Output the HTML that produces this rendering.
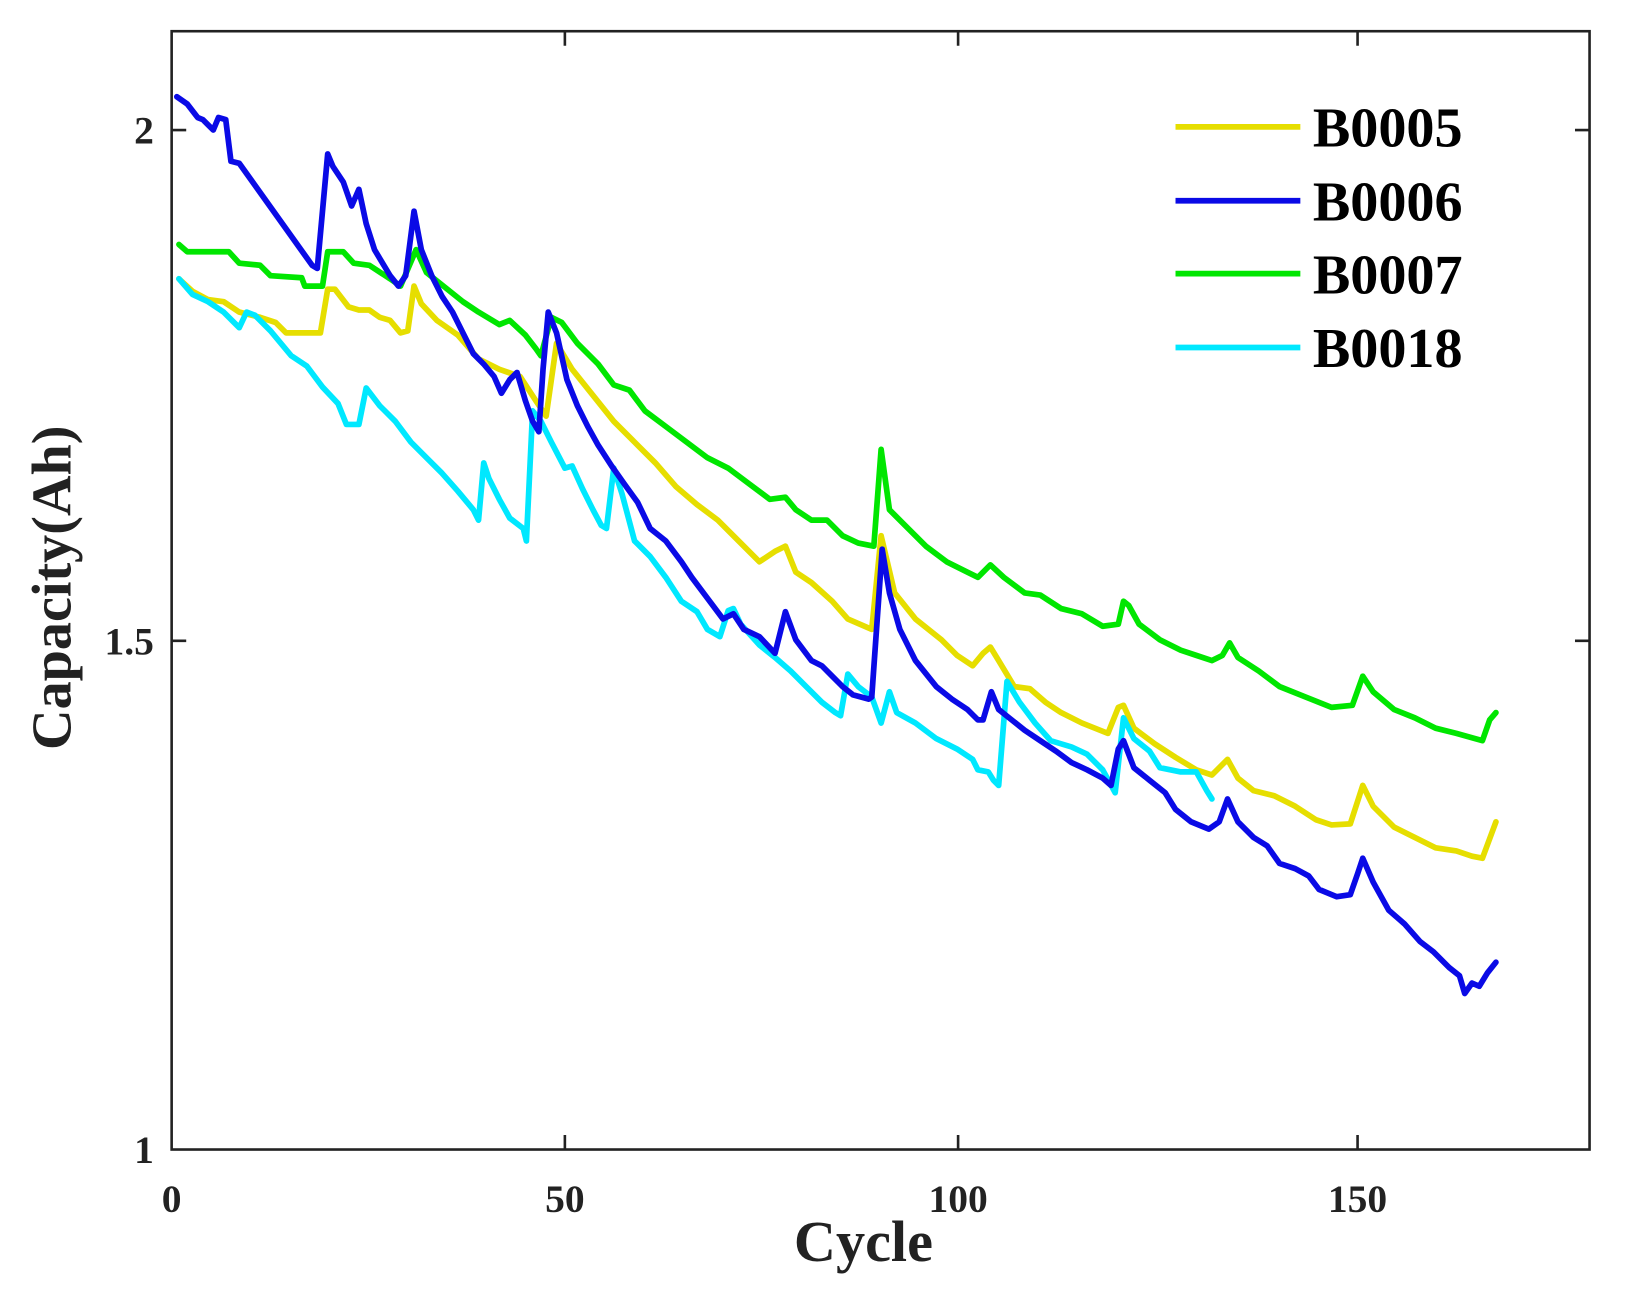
<!DOCTYPE html>
<html><head><meta charset="utf-8"><style>html,body{margin:0;padding:0;background:#fff}svg{display:block}</style></head>
<body>
<svg width="1627" height="1291" viewBox="0 0 1564 1241" preserveAspectRatio="none" xmlns="http://www.w3.org/2000/svg" font-family="Liberation Serif, serif" font-weight="bold">
<rect width="1564" height="1241" fill="#fff"/>
<g fill="none" stroke-width="5.5" stroke-linejoin="round" stroke-linecap="round">
<polyline stroke="#e6de00" points="172,268 185,280 200,288 215,290 230,300 250,305 265,310 275,320 290,320 308,320 315,278 322,278 335,295 345,298 355,298 365,305 375,308 385,320 392,318 398,275 405,292 420,308 440,322 460,345 480,355 500,362 515,385 525,400 535,330 550,355 570,380 590,405 610,425 630,445 650,468 670,485 690,500 710,520 730,540 745,530 755,525 765,550 780,560 800,578 815,595 838,605 847,515 860,570 880,595 905,615 920,630 935,640 945,628 952,622 960,635 975,660 990,662 1005,675 1020,685 1040,695 1065,705 1075,680 1080,678 1090,700 1110,715 1130,728 1150,740 1165,745 1180,730 1190,748 1205,760 1225,765 1245,775 1265,788 1280,793 1298,792 1310,755 1320,775 1340,795 1360,805 1380,815 1400,818 1415,823 1425,825 1438,790"/>
<polyline stroke="#00e600" points="172,235 180,242 220,242 230,253 250,255 260,265 290,267 293,275 310,275 315,242 330,242 340,253 355,255 375,268 385,275 400,240 410,262 430,278 445,290 460,300 480,312 490,308 505,322 515,335 520,342 530,305 540,310 555,330 575,350 590,370 605,375 620,395 640,410 660,425 680,440 700,450 720,465 740,480 755,478 765,490 780,500 795,500 810,515 825,522 840,525 847,432 855,490 870,505 890,525 910,540 930,550 940,555 952,543 965,555 985,570 1000,572 1020,585 1040,590 1060,602 1075,600 1080,578 1085,582 1095,600 1115,615 1135,625 1150,630 1165,635 1175,630 1182,618 1190,632 1210,645 1230,660 1255,670 1280,680 1300,678 1310,650 1320,665 1340,682 1360,690 1380,700 1400,705 1418,710 1425,712 1432,692 1438,685"/>
<polyline stroke="#00e8ff" points="172,268 185,283 200,290 215,300 230,315 237,300 245,303 260,318 280,342 295,352 310,372 325,388 333,408 345,408 352,373 365,390 380,405 395,425 410,440 425,455 440,472 455,490 460,500 465,445 470,460 480,480 490,498 503,508 506,520 512,395 520,405 530,425 543,450 550,448 560,470 570,490 578,505 583,508 590,450 598,475 610,520 625,535 640,555 655,578 670,588 680,605 692,612 700,587 705,585 712,600 730,620 745,632 760,645 775,660 790,675 803,685 808,688 815,648 825,660 838,670 847,695 855,665 862,685 880,695 900,710 920,720 935,730 940,740 950,742 955,750 960,755 968,655 980,675 995,695 1010,712 1030,718 1045,725 1060,740 1072,762 1080,690 1090,710 1105,722 1115,738 1125,740 1135,742 1150,742 1160,760 1165,768"/>
<polyline stroke="#0a0ae6" points="170,93 180,100 190,113 195,115 205,125 210,113 217,115 222,155 230,157 300,255 305,258 315,148 320,160 330,175 338,198 345,182 352,215 360,240 375,265 383,275 390,265 398,203 405,240 415,265 425,285 435,300 445,320 455,340 465,350 475,362 482,378 490,365 497,358 505,385 512,405 518,415 522,355 527,300 535,320 545,365 555,390 565,410 575,428 588,448 600,465 613,483 625,508 640,520 655,540 665,555 680,575 695,595 705,590 715,605 730,612 745,628 755,588 765,615 780,635 790,640 800,650 810,660 820,668 835,672 838,670 848,528 855,570 865,605 880,635 900,660 915,672 930,682 940,692 945,692 953,665 960,682 970,690 985,702 1000,712 1015,722 1030,733 1045,740 1060,748 1068,755 1075,720 1080,712 1090,738 1105,750 1120,762 1130,778 1145,790 1162,797 1172,790 1180,768 1190,790 1205,805 1218,813 1230,830 1245,835 1258,842 1268,855 1285,862 1298,860 1305,840 1310,825 1320,848 1335,875 1350,888 1365,905 1378,915 1393,930 1403,938 1408,955 1415,945 1422,948 1430,935 1438,925"/>
</g>
<g stroke="#222" stroke-width="2.5" fill="none">
<rect x="165" y="30" width="1363" height="1075"/>
<path d="M165,125h14M165,616h14M1528,125h-14M1528,616h-14M543,1105v-14M921,1105v-14M1305,1105v-14M543,30v14M921,30v14M1305,30v14"/>
</g>
<g stroke-width="5.5">
<line x1="1130" y1="122" x2="1250" y2="122" stroke="#e6de00"/>
<line x1="1130" y1="193" x2="1250" y2="193" stroke="#0a0ae6"/>
<line x1="1130" y1="263" x2="1250" y2="263" stroke="#00e600"/>
<line x1="1130" y1="334" x2="1250" y2="334" stroke="#00e8ff"/>
</g>
<g font-size="54" fill="#000">
<text x="1262" y="141">B0005</text>
<text x="1262" y="212">B0006</text>
<text x="1262" y="282">B0007</text>
<text x="1262" y="353">B0018</text>
</g>
<g font-size="38" fill="#222" text-anchor="end">
<text x="148" y="138">2</text>
<text x="148" y="629">1.5</text>
<text x="148" y="1118">1</text>
</g>
<g font-size="38" fill="#222" text-anchor="middle">
<text x="165" y="1165">0</text>
<text x="543" y="1165">50</text>
<text x="921" y="1165">100</text>
<text x="1305" y="1165">150</text>
</g>
<text x="830" y="1212" font-size="56" text-anchor="middle" fill="#222">Cycle</text>
<text transform="translate(68,565) rotate(-90)" font-size="54" text-anchor="middle" fill="#222">Capacity(Ah)</text>
</svg>
</body></html>
